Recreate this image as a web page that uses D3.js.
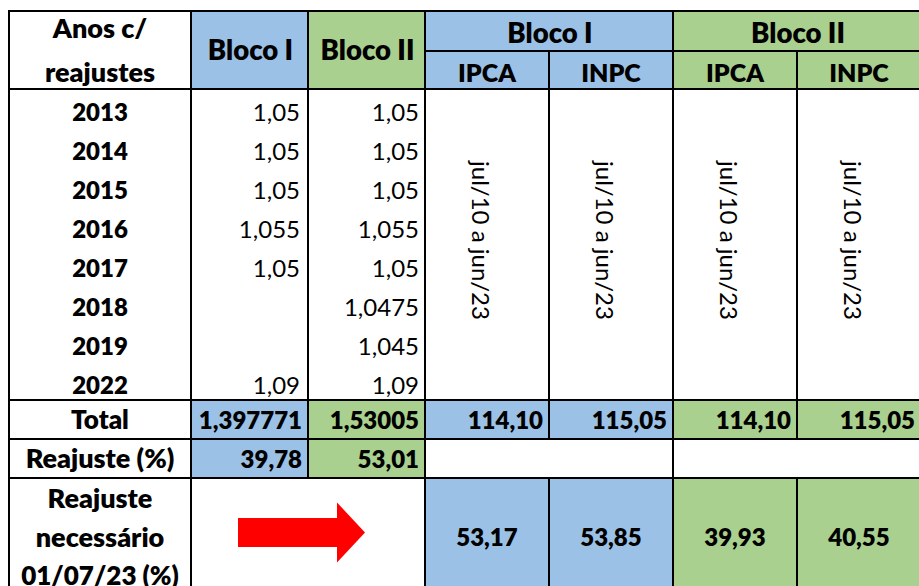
<!DOCTYPE html>
<html>
<head>
<meta charset="utf-8">
<script src="https://cdn.jsdelivr.net/npm/d3@7"></script>
<style>
  body { margin: 0; background: #fff; }
  text { font-family: Lato, "Open Sans", sans-serif; fill: #000; }
</style>
</head>
<body>
<svg id="chart" width="919" height="586"></svg>
<script>
// dados da tabela
const years = ['2013', '2014', '2015', '2016', '2017', '2018', '2019', '2022']
const blocoI = [1.05, 1.05, 1.05, 1.055, 1.05, null, null, 1.09]
const blocoII = [1.05, 1.05, 1.05, 1.055, 1.05, 1.0475, 1.045, 1.09]
const blocos = ['Bloco I', 'Bloco II']
const totalBloco = [1.397771, 1.53005]
const reajusteBloco = [39.78, 53.01]
const indices = ['IPCA', 'INPC', 'IPCA', 'INPC']
const periodo = 'jul/10 a jun/23'
const totalIndice = [114.10, 115.05, 114.10, 115.05]
const necessario = [53.17, 53.85, 39.93, 40.55]

const blue = '#9BC2E6'
const green = '#A9D08E'
const blocoColor = [blue, green]
const indiceColor = [blue, blue, green, green]

const ptBR = d3.formatLocale({ decimal: ',', thousands: '.', grouping: [3], currency: ['R$', ''] })
const f2 = ptBR.format('.2f')
const fRaw = (v) => String(v).replace('.', ',')

const svg = d3.select('#chart')

// colunas
const xLabel = [9, 191]
const xBloco = d3.scaleBand().domain(blocos).range([191, 425])
const xIdx = d3.scaleBand().domain(d3.range(indices.length)).range([425, 921])

// linhas
const yTop = 11, yMid = 51, yHead = 89
const yYear = d3.scaleBand().domain(years).range([yHead, 400])
const rowH = yYear.bandwidth()
const yTotal = 400, yReaj = 439, yNec = 478, yEnd = 596

const cells = []
const cell = (x0, x1, y0, y1, fill) => cells.push({ x0, x1, y0, y1, fill })

// cabeçalho
cell(xLabel[0], xLabel[1], yTop, yHead, '#fff')
blocos.forEach((b, i) => cell(xBloco(b), xBloco(b) + xBloco.bandwidth(), yTop, yHead, blocoColor[i]))
blocos.forEach((b, i) => cell(xIdx(i * 2), xIdx(i * 2 + 1) + xIdx.bandwidth(), yTop, yMid, blocoColor[i]))
indices.forEach((d, i) => cell(xIdx(i), xIdx(i) + xIdx.bandwidth(), yMid, yHead, indiceColor[i]))
// anos
cell(xLabel[0], xLabel[1], yHead, yTotal, '#fff')
blocos.forEach((b) => cell(xBloco(b), xBloco(b) + xBloco.bandwidth(), yHead, yTotal, '#fff'))
indices.forEach((d, i) => cell(xIdx(i), xIdx(i) + xIdx.bandwidth(), yHead, yTotal, '#fff'))
// total
cell(xLabel[0], xLabel[1], yTotal, yReaj, '#fff')
blocos.forEach((b, i) => cell(xBloco(b), xBloco(b) + xBloco.bandwidth(), yTotal, yReaj, blocoColor[i]))
indices.forEach((d, i) => cell(xIdx(i), xIdx(i) + xIdx.bandwidth(), yTotal, yReaj, indiceColor[i]))
// reajuste
cell(xLabel[0], xLabel[1], yReaj, yNec, '#fff')
blocos.forEach((b, i) => cell(xBloco(b), xBloco(b) + xBloco.bandwidth(), yReaj, yNec, blocoColor[i]))
blocos.forEach((b, i) => cell(xIdx(i * 2), xIdx(i * 2 + 1) + xIdx.bandwidth(), yReaj, yNec, '#fff'))
// reajuste necessario
cell(xLabel[0], xLabel[1], yNec, yEnd, '#fff')
cell(xBloco.range()[0], xBloco.range()[1], yNec, yEnd, '#fff')
indices.forEach((d, i) => cell(xIdx(i), xIdx(i) + xIdx.bandwidth(), yNec, yEnd, indiceColor[i]))

svg.append('g').selectAll('rect')
  .data(cells)
  .join('rect')
  .attr('x', d => d.x0)
  .attr('y', d => d.y0)
  .attr('width', d => d.x1 - d.x0)
  .attr('height', d => d.y1 - d.y0)
  .attr('fill', d => d.fill)
  .attr('stroke', '#000')
  .attr('stroke-width', 2)

const txt = svg.append('g').attr('font-size', 24)
const labelX = (xLabel[0] + xLabel[1]) / 2
const pad = 6

// size: tamanho da fonte, bold: negrito
const addText = (x, y, s, anchor, bold, size) => txt.append('text')
  .attr('x', x).attr('y', y)
  .attr('text-anchor', anchor)
  .attr('font-weight', bold ? 800 : 400)
  .attr('font-size', size || 24)
  .text(s)

// cabeçalho
addText(labelX, 38, 'Anos c/', 'middle', true, 27)
addText(labelX, 82, 'reajustes', 'middle', true, 27)
blocos.forEach((b) => addText(xBloco(b) + xBloco.bandwidth() / 2 + 1, 60, b, 'middle', true, 27.5))
blocos.forEach((b, i) => addText((xIdx(i * 2) + xIdx(i * 2 + 1) + xIdx.bandwidth()) / 2 + 1, 43, b, 'middle', true, 27.5))
indices.forEach((d, i) => addText(xIdx(i) + xIdx.bandwidth() / 2, 82, d, 'middle', true, 25))

// anos e fatores
years.forEach((y, i) => {
  const base = yYear(y) + rowH - 6.5
  addText(labelX, base, y, 'middle', true)
  if (blocoI[i] != null) addText(xBloco('Bloco I') + xBloco.bandwidth() - pad - 2, base, fRaw(blocoI[i]), 'end', false)
  if (blocoII[i] != null) addText(xBloco('Bloco II') + xBloco.bandwidth() - pad, base, fRaw(blocoII[i]), 'end', false)
})

// periodo (vertical)
indices.forEach((d, i) => {
  const cx = xIdx(i) + xIdx.bandwidth() / 2 - 7
  const cy = (yHead + yTotal) / 2 - 4
  txt.append('text')
    .attr('transform', `translate(${cx},${cy}) rotate(90)`)
    .attr('text-anchor', 'middle')
    .attr('dy', '0.35em')
    .text(periodo)
})

// total
addText(labelX, 429, 'Total', 'middle', true, 26)
blocos.forEach((b, i) => addText(xBloco(b) + xBloco.bandwidth() - pad, 429, fRaw(totalBloco[i]), 'end', true))
indices.forEach((d, i) => addText(xIdx(i) + xIdx.bandwidth() - pad, 429, f2(totalIndice[i]), 'end', true))

// reajuste
addText(labelX, 468, 'Reajuste (%)', 'middle', true, 27)
blocos.forEach((b, i) => addText(xBloco(b) + xBloco.bandwidth() - pad, 468, f2(reajusteBloco[i]), 'end', true))

// reajuste necessario
addText(labelX, 508, 'Reajuste', 'middle', true, 27)
addText(labelX, 547, 'necessário', 'middle', true, 27)
addText(labelX, 585, '01/07/23 (%)', 'middle', true, 26)
indices.forEach((d, i) => addText(xIdx(i) + xIdx.bandwidth() / 2, 546, f2(necessario[i]), 'middle', true))

// seta vermelha
const ax = (xBloco.range()[0] + xBloco.range()[1]) / 2
const ay = 532.5
svg.append('path')
  .attr('d', `M${ax - 70},${ay - 14.5} H${ax + 29} V${ay - 30} L${ax + 57},${ay} L${ax + 29},${ay + 30} V${ay + 14.5} H${ax - 70} Z`)
  .attr('fill', '#FF0000')
</script>
</body>
</html>
